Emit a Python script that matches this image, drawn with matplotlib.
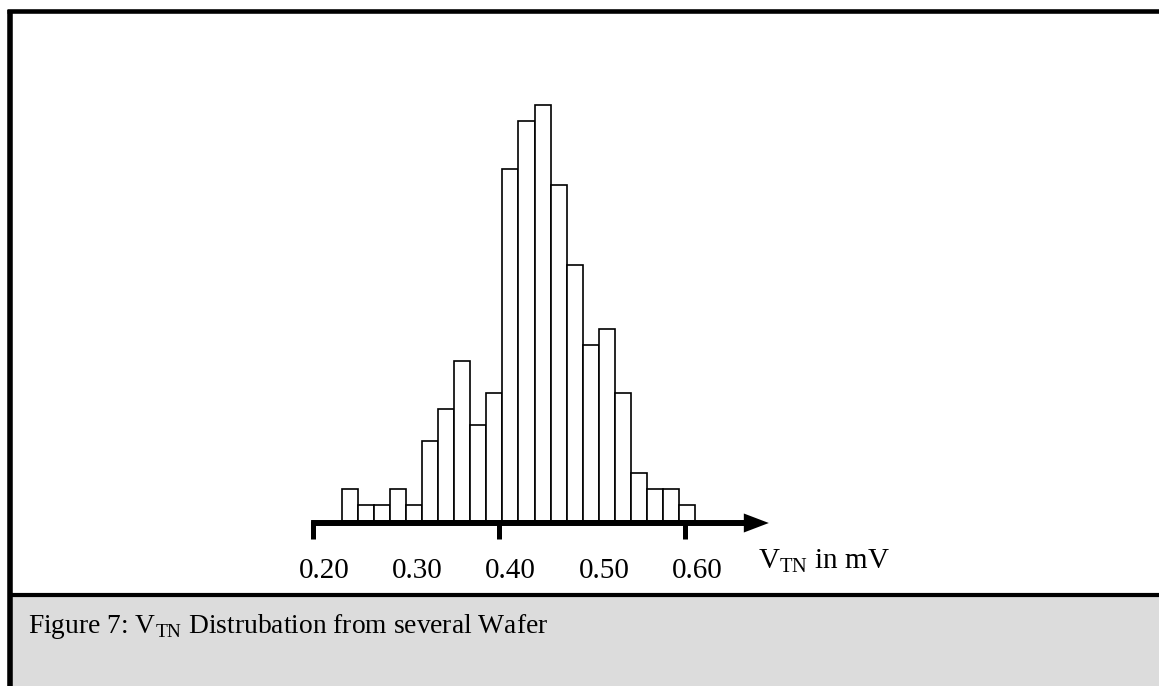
import numpy as np
import matplotlib
matplotlib.use("Agg")
import matplotlib.pyplot as plt
from matplotlib.patches import FancyArrowPatch, Rectangle
from matplotlib.lines import Line2D
import matplotlib.transforms as mtransforms

plt.rcParams['font.family'] = ['Liberation Serif', 'DejaVu Serif']
plt.rcParams['mathtext.fontset'] = 'custom'
plt.rcParams['mathtext.rm'] = 'Liberation Serif'

# histogram counts per bin
counts = [2, 1, 1, 2, 1, 5, 7, 10, 6, 8, 22, 25, 26, 21, 16, 11, 12, 8, 3, 2, 2, 1]
bin_start = 0.232
bin_width = 0.0172
major_ticks = [0.20, 0.40, 0.60]
label_ticks = [0.20, 0.30, 0.40, 0.50, 0.60]
label_text = ["0.20", "0.30", "0.40", "0.50", "0.60"]

W, H = 1159, 686
fig = plt.figure(figsize=(W / 100, H / 100), dpi=100)

# background / frame in pixel coordinates
bg = fig.add_axes([0, 0, 1, 1])
bg.set_xlim(0, W)
bg.set_ylim(H, 0)
bg.axis('off')
bg.add_patch(Rectangle((10, 594), W - 10, H - 594, facecolor='#dcdcdc', edgecolor='none'))
bg.add_line(Line2D([7, W], [11.3, 11.3], color='black', lw=3.3, solid_capstyle='butt'))
bg.add_line(Line2D([9, W], [594.5, 594.5], color='black', lw=3.0, solid_capstyle='butt'))
bg.add_line(Line2D([9.9, 9.9], [9.5, H], color='black', lw=4.0, solid_capstyle='butt'))
bg.text(28, 633, r"Figure 7: V$_{\mathrm{TN}}$ Distrubation from several Wafer",
        fontsize=19.8, va='baseline', ha='left')

# histogram axes: 0.20 V at x=312.5 px, 931.25 px per volt, 16 px per count
px_per_v = 931.25
x0_px, x1_px = 300, 800
y_top_px, y_base_px = 90, 521
ax = fig.add_axes([x0_px / W, (H - y_base_px) / H, (x1_px - x0_px) / W, (y_base_px - y_top_px) / H])
ax.set_xlim(0.2 - (312.5 - x0_px) / px_per_v, 0.2 + (x1_px - 312.5) / px_per_v)
ax.set_ylim(0, (y_base_px - y_top_px) / 16)
ax.patch.set_alpha(0)
for s in ax.spines.values():
    s.set_visible(False)
ax.set_yticks([])

lefts = bin_start + bin_width * np.arange(len(counts))
ax.bar(lefts, counts, width=bin_width, align='edge', facecolor='white',
       edgecolor='black', linewidth=1.2)

# thick axis with arrow
arr = FancyArrowPatch((0.1955, -0.125), (0.693, -0.125),
                      arrowstyle='simple,head_length=18,head_width=13.7,tail_width=4.3',
                      mutation_scale=1, color='black', lw=0, clip_on=False)
ax.add_patch(arr)

ax.xaxis.remove_overlapping_locs = False
ax.set_xticks(major_ticks)
ax.set_xticklabels([])
ax.tick_params(axis='x', which='major', direction='out', length=13, width=3.6, color='black')
ax.set_xticks(label_ticks, minor=True)
ax.set_xticklabels(label_text, minor=True, fontsize=21)
ax.tick_params(axis='x', which='minor', length=0, pad=27)
offset = mtransforms.ScaledTranslation(12 / 100, 0, fig.dpi_scale_trans)
for lab in ax.xaxis.get_minorticklabels():
    lab.set_transform(lab.get_transform() + offset)

bg.text(758, 568, r"V$_{\mathrm{TN}}$ in mV", fontsize=21, va='baseline', ha='left')

fig.savefig("out.png", dpi=100)
